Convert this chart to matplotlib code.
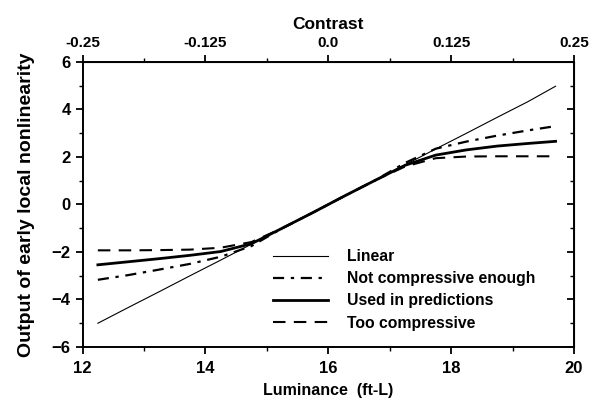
import matplotlib.pyplot as plt
import numpy as np

plt.rcParams['font.family'] = ['Liberation Sans', 'DejaVu Sans']

# luminance samples (ft-L) and model outputs
lum = [12.25, 12.75, 13.25, 13.75, 14.25, 14.75, 15.25, 15.75, 16.0,
       16.25, 16.75, 17.25, 17.75, 18.25, 18.75, 19.25, 19.7]
linear = [-5.0, -4.33, -3.67, -3.0, -2.34, -1.67, -1.0, -0.34, 0.0,
          0.34, 1.0, 1.67, 2.34, 3.0, 3.67, 4.33, 4.98]
not_enough = [-3.17, -2.97, -2.74, -2.5, -2.2, -1.75, -1.0, -0.34, 0.0,
              0.34, 1.0, 1.75, 2.35, 2.65, 2.9, 3.12, 3.3]
used = [-2.54, -2.41, -2.28, -2.14, -1.98, -1.65, -1.0, -0.34, 0.0,
        0.34, 1.0, 1.65, 2.08, 2.3, 2.46, 2.57, 2.66]
too_comp = [-1.93, -1.93, -1.92, -1.9, -1.82, -1.58, -1.0, -0.34, 0.0,
            0.34, 1.0, 1.6, 1.95, 2.02, 2.03, 2.03, 2.03]

contrast_ticks = [-0.25, -0.125, 0.0, 0.125, 0.25]
contrast_labels = ['-0.25', '-0.125', '0.0', '0.125', '0.25']

fig = plt.figure(figsize=(5.89, 3.98), dpi=100)
ax = fig.add_axes([82.5 / 589, 1 - 347 / 398, 491.5 / 589, 285 / 398])

ax.plot(lum, linear, color='black', lw=0.8, label='Linear')
ax.plot(lum, not_enough, color='black', lw=1.6, ls=(0, (5, 3, 1.5, 3)),
        label='Not compressive enough')
ax.plot(lum, used, color='black', lw=2.0, label='Used in predictions')
ax.plot(lum, too_comp, color='black', lw=1.5, ls=(0, (6, 4)),
        label='Too compressive')

ax.set_xlim(12, 20)
ax.set_ylim(-6, 6)
ax.set_xticks([12, 14, 16, 18, 20])
ax.set_xticks([13, 15, 17, 19], minor=True)
ax.set_yticks([-6, -4, -2, 0, 2, 4, 6])
ax.set_yticks([-5, -3, -1, 1, 3, 5], minor=True)
ax.tick_params(which='major', direction='out', length=5, width=1.3,
               labelsize=12)
ax.tick_params(axis='x', which='major', pad=5)
ax.tick_params(which='minor', direction='out', length=3, width=1)
for lbl in ax.get_xticklabels() + ax.get_yticklabels():
    lbl.set_fontweight('bold')
for s in ax.spines.values():
    s.set_linewidth(1.4)

# right side: inward ticks, no labels
right = ax.secondary_yaxis('right')
right.set_yticks([-6, -4, -2, 0, 2, 4, 6])
right.set_yticks([-5, -3, -1, 1, 3, 5], minor=True)
right.tick_params(which='major', direction='in', length=5, width=1.3,
                  labelright=False)
right.tick_params(which='minor', direction='in', length=3, width=1,
                  labelright=False)

ax.set_xlabel('Luminance  (ft-L)', fontsize=11.5, fontweight='bold', labelpad=5)
ax.set_ylabel('Output of early local nonlinearity', fontsize=14,
              fontweight='bold', labelpad=12)

top = ax.secondary_xaxis('top', functions=(lambda x: (x - 16) / 16,
                                           lambda c: c * 16 + 16))
top.set_xticks(contrast_ticks)
top.set_xticklabels(contrast_labels, fontweight='bold')
top.set_xticks([-0.1875, -0.0625, 0.0625, 0.1875], minor=True)
top.tick_params(which='major', direction='out', length=5, width=1.3, labelsize=11)
top.tick_params(which='minor', direction='out', length=3, width=1)
top.set_xlabel('Contrast', fontsize=12.5, fontweight='bold', labelpad=5)

ax.legend(loc='upper left', bbox_to_anchor=(273 / 589, 1 - 249 / 398),
          bbox_transform=fig.transFigure, frameon=False, borderpad=0,
          borderaxespad=0, handlelength=3.5, handletextpad=1.2,
          labelspacing=0.46, prop={'weight': 'bold', 'size': 11.3})

fig.savefig('out.png', dpi=100)
